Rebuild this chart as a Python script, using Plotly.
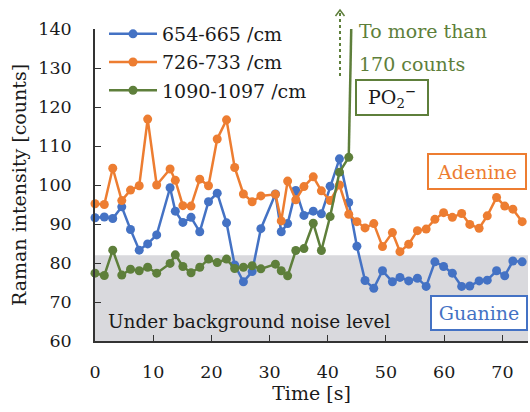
import plotly.graph_objects as go

# ---- data ----
time_s = [0, 1.6, 3.05, 4.6, 6.1, 7.6, 9.05, 10.6, 12.9, 13.8,
          15.1, 16.5, 18.0, 19.5, 21.0, 22.6, 24.0, 25.5, 27.0, 28.5,
          31.0, 32.0, 33.1, 34.5, 35.9, 37.5, 38.9, 40.4, 42.0, 43.6,
          45.0, 46.4, 47.9, 49.4, 51.1, 52.4, 53.9, 55.4, 56.9, 58.4,
          59.9, 61.4, 63.0, 64.4, 66.0, 67.4, 69.0, 70.4, 71.8, 73.4]

band_654 = [91.6, 91.8, 91.4, 94.4, 88.6, 83.3, 84.9, 87.2, 99.3, 93.3,
            90.4, 91.7, 88.0, 95.7, 97.9, 90.3, 79.5, 75.2, 77.8, 88.8,
            97.7, 88.0, 90.1, 98.6, 92.2, 93.3, 92.6, 99.7, 106.7, 95.5,
            84.3, 75.5, 73.5, 78.0, 75.2, 76.3, 75.4, 76.1, 74.0, 80.3,
            79.1, 77.4, 74.0, 74.1, 75.4, 75.6, 78.0, 76.7, 80.5, 80.3]

band_726 = [95.2, 95.0, 104.3, 96.0, 98.7, 99.8, 116.9, 100.0, 104.1, 101.2,
            94.7, 94.6, 101.5, 99.8, 111.8, 116.7, 104.5, 97.7, 95.7, 97.2,
            97.6, 90.8, 101.0, 96.2, 99.6, 102.1, 98.5, 96.0, 100.0, 92.5,
            90.6, 89.0, 90.1, 84.2, 87.8, 82.9, 84.8, 88.3, 88.7, 91.2,
            92.9, 91.7, 92.7, 89.9, 88.9, 92.1, 96.8, 94.6, 93.8, 90.6]

# 1090-1097 band: visible points, then one point far above the axis (>170 counts)
band_1090 = [77.4, 76.8, 83.3, 76.9, 78.4, 78.0, 78.9, 77.4, 79.9, 82.1,
             79.1, 77.5, 78.9, 81.0, 80.1, 81.0, 78.6, 78.9, 79.3, 78.5,
             79.7, 78.0, 76.7, 83.2, 83.7, 90.2, 83.2, 91.9, 103.3, 107.1,
             215.0]

series_names = ["654-665 /cm", "726-733 /cm", "1090-1097 /cm"]
noise_level = 82
x_ticks = [0, 10, 20, 30, 40, 50, 60, 70]
y_ticks = [60, 70, 80, 90, 100, 110, 120, 130, 140]

# ---- styling ----
BLUE = "#4472C4"
ORANGE = "#ED7D31"
GREEN = "#5E7F3B"
TXT = "#1a1a1a"
FONT = "DejaVu Serif"

W, H = 530, 412
ML, MR, MT, MB = 95, 2, 29, 71
PW, PH = W - ML - MR, H - MT - MB


def px(xp):
    return (xp - ML) / PW


def py(yp):
    return (H - MB - yp) / PH


fig = go.Figure()

n_vis = len(band_1090) - 1  # markers shown up to the last in-range point
for name, xs, vals, col in [
    (series_names[0], time_s, band_654, BLUE),
    (series_names[1], time_s, band_726, ORANGE),
    (series_names[2], time_s[:n_vis], band_1090[:n_vis], GREEN),
]:
    fig.add_trace(go.Scatter(
        x=xs, y=vals, name=name, mode="lines+markers",
        line=dict(color=col, width=2.5),
        marker=dict(color=col, size=9),
        cliponaxis=False, legendgroup=name,
    ))

# the spike segment of the 1090-1097 band (line runs off the top of the plot)
fig.add_trace(go.Scatter(
    x=time_s[n_vis - 1:n_vis + 1], y=band_1090[n_vis - 1:n_vis + 1],
    mode="lines", line=dict(color=GREEN, width=2.5), showlegend=False,
    legendgroup=series_names[2], hoverinfo="skip",
))

# noise band
fig.add_shape(type="rect", xref="paper", x0=0, x1=1, yref="y", y0=60, y1=noise_level,
              fillcolor="#D9D9DD", line=dict(width=0), layer="below")

# dotted arrow
fig.add_shape(type="line", xref="paper", yref="paper",
              x0=px(340), x1=px(340), y0=py(76), y1=py(12),
              line=dict(color=GREEN, width=2, dash="dot"))
fig.add_shape(type="path", xref="paper", yref="paper",
              path=f"M {px(335.5)} {py(16)} L {px(340)} {py(10)} L {px(344.5)} {py(16)}",
              line=dict(color=GREEN, width=1.5))

ann = [
    dict(text="To more than", x=px(357), y=py(31.5), xanchor="left", yanchor="middle",
         font=dict(color=GREEN, size=19, family=FONT)),
    dict(text="170 counts", x=px(357), y=py(64), xanchor="left", yanchor="middle",
         font=dict(color=GREEN, size=19, family=FONT)),
    dict(text="PO<sub>2</sub><sup>−</sup>", x=px(392), y=py(97), xanchor="center", yanchor="middle",
         font=dict(color=TXT, size=19, family=FONT), bordercolor=GREEN, borderwidth=2,
         borderpad=1, width=68, height=31, bgcolor="white"),
    dict(text="Adenine", x=px(477), y=py(171.5), xanchor="center", yanchor="middle",
         font=dict(color=ORANGE, size=19, family=FONT), bordercolor=ORANGE, borderwidth=2,
         borderpad=1, width=94, height=31, bgcolor="white"),
    dict(text="Guanine", x=px(479), y=py(313), xanchor="center", yanchor="middle",
         font=dict(color=BLUE, size=19, family=FONT), bordercolor=BLUE, borderwidth=2,
         borderpad=1, width=92, height=30, bgcolor="white"),
    dict(text="Under background noise level", x=px(106), y=py(321), xanchor="left", yanchor="middle",
         font=dict(color=TXT, size=18.5, family=FONT)),
]
for a in ann:
    fig.add_annotation(xref="paper", yref="paper", showarrow=False, **a)

axis_common = dict(showline=True, linecolor="#333333", linewidth=1.6, ticks="inside",
                   ticklen=6, tickwidth=1.3, tickcolor="#333333", showgrid=False,
                   zeroline=False, tickfont=dict(size=17.5, color=TXT, family=FONT))

fig.update_xaxes(range=[0, 74.4], tickvals=x_ticks, ticktext=[str(v) for v in x_ticks],
                 ticklabelstandoff=14,
                 title=dict(text="Time [s]", font=dict(size=19, color=TXT, family=FONT), standoff=6),
                 **axis_common)
fig.update_yaxes(range=[60, 140], tickvals=y_ticks, ticktext=[str(v) for v in y_ticks],
                 ticklabelstandoff=18,
                 title=dict(text="Raman intensity [counts]", font=dict(size=19, color=TXT, family=FONT),
                            standoff=7),
                 **axis_common)

fig.update_layout(
    width=W, height=H,
    margin=dict(l=ML, r=MR, t=MT, b=MB, autoexpand=False),
    plot_bgcolor="white", paper_bgcolor="white",
    font=dict(family=FONT, color=TXT),
    showlegend=True,
    legend=dict(x=px(104), y=py(15), xanchor="left", yanchor="top",
                bgcolor="rgba(0,0,0,0)", font=dict(size=19, family=FONT, color=TXT),
                itemwidth=48, tracegroupgap=0.5, traceorder="grouped"),
)

fig.write_html("out.html")
